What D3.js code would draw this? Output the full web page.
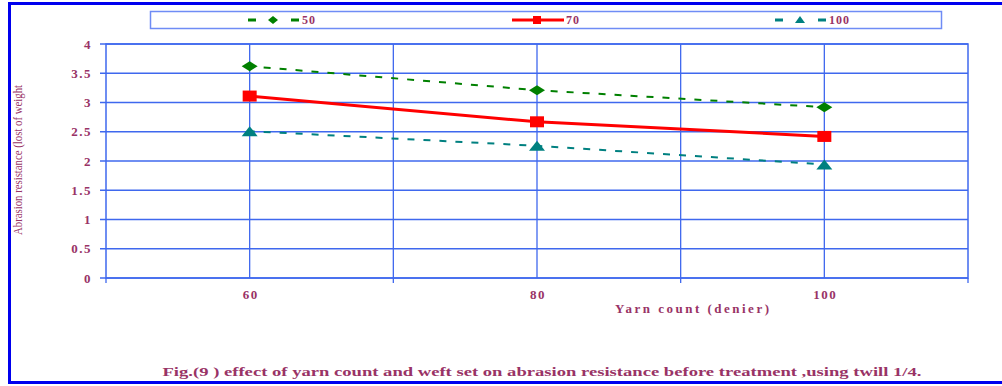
<!DOCTYPE html>
<html>
<head>
<meta charset="utf-8">
<script src="https://cdn.jsdelivr.net/npm/d3@7"></script>
<style>
  body { margin: 0; background: #ffffff; }
  svg text { font-family: "Liberation Serif", "Times New Roman", serif; }
</style>
</head>
<body>
<div id="chart"></div>
<script>
const yarnCounts = [60, 80, 100];
const weft50 = [3.62, 3.21, 2.92];
const weft70 = [3.11, 2.67, 2.42];
const weft100 = [2.51, 2.26, 1.94];
const yTicks = [0, 0.5, 1, 1.5, 2, 2.5, 3, 3.5, 4];
const yTickLabels = ["0", "0.5", "1", "1.5", "2", "2.5", "3", "3.5", "4"];
const xGrid = [60, 70, 80, 90, 100];

const SERIES = [
  { label: "50", values: weft50, color: "#008000", dash: "7,9", width: 2, marker: "diamond" },
  { label: "70", values: weft70, color: "#ff0000", dash: null, width: 3, marker: "square" },
  { label: "100", values: weft100, color: "#008080", dash: "7,9", width: 2, marker: "triangle" },
];

const TEXT = "#993366";
const GRID = "#3f68ee";
const width = 1002;
const height = 386;
const margin = { top: 44, right: 34, bottom: 108, left: 106 };
const innerWidth = width - margin.left - margin.right;
const innerHeight = height - margin.top - margin.bottom;

const svg = d3.select("#chart").append("svg")
  .attr("width", width)
  .attr("height", height);

// outer frame (right side runs off the picture)
svg.append("rect")
  .attr("x", 9.5).attr("y", 3.5)
  .attr("width", 1000).attr("height", 379)
  .attr("fill", "none")
  .attr("stroke", "#0000ee")
  .attr("stroke-width", 3);

const chart = svg.append("g")
  .attr("transform", `translate(${margin.left},${margin.top})`);

const x = d3.scaleLinear().domain([50, 110]).range([0, innerWidth]);
const y = d3.scaleLinear().domain([0, 4]).range([innerHeight, 0]);

// horizontal grid
chart.selectAll(".hgrid").data(yTicks).join("line")
  .attr("x1", -6).attr("x2", innerWidth)
  .attr("y1", (d) => y(d)).attr("y2", (d) => y(d))
  .attr("stroke", GRID).attr("stroke-width", 1.3);

// vertical grid
chart.selectAll(".vgrid").data(xGrid).join("line")
  .attr("x1", (d) => x(d)).attr("x2", (d) => x(d))
  .attr("y1", 0).attr("y2", innerHeight)
  .attr("stroke", GRID).attr("stroke-width", 1.3);

// bottom tick marks
chart.selectAll(".xtick").data([50, 70, 90, 110]).join("line")
  .attr("x1", (d) => x(d)).attr("x2", (d) => x(d))
  .attr("y1", innerHeight).attr("y2", innerHeight + 5)
  .attr("stroke", GRID).attr("stroke-width", 1.3);

// plot border
chart.append("rect")
  .attr("width", innerWidth).attr("height", innerHeight)
  .attr("fill", "none")
  .attr("stroke", GRID).attr("stroke-width", 1.5);

// y tick labels
chart.selectAll(".ylab").data(yTicks).join("text")
  .attr("x", -14)
  .attr("y", (d) => y(d) + 4.5)
  .attr("text-anchor", "end")
  .attr("font-size", 13)
  .attr("font-weight", "bold")
  .attr("letter-spacing", 1.5)
  .attr("fill", TEXT)
  .text((d, i) => yTickLabels[i]);

// x tick labels
chart.selectAll(".xlab").data(yarnCounts).join("text")
  .attr("x", (d) => x(d) + 1)
  .attr("y", innerHeight + 21)
  .attr("text-anchor", "middle")
  .attr("font-size", 13)
  .attr("font-weight", "bold")
  .attr("letter-spacing", 1.5)
  .attr("fill", TEXT)
  .text((d) => d);

// axis titles
svg.append("text")
  .attr("x", 692).attr("y", 313)
  .attr("text-anchor", "middle")
  .attr("font-size", 13)
  .attr("font-weight", "bold")
  .attr("fill", TEXT)
  .attr("textLength", 154)
  .attr("lengthAdjust", "spacing")
  .text("Yarn count (denier)");

svg.append("text")
  .attr("transform", "translate(22,160) rotate(-90)")
  .attr("text-anchor", "middle")
  .attr("font-size", 12)
  .attr("fill", TEXT)
  .attr("textLength", 150)
  .attr("lengthAdjust", "spacingAndGlyphs")
  .text("Abrasion resistance (lost of weight");

svg.append("text")
  .attr("x", 542).attr("y", 376)
  .attr("text-anchor", "middle")
  .attr("font-size", 13)
  .attr("font-weight", "bold")
  .attr("fill", TEXT)
  .attr("textLength", 759)
  .attr("lengthAdjust", "spacingAndGlyphs")
  .text("Fig.(9 ) effect of yarn count and weft set on abrasion resistance before treatment ,using twill 1/4.");

function drawMarker(g, type, color, cx, cy) {
  if (type === "diamond") {
    g.append("path")
      .attr("d", `M${cx - 8},${cy} L${cx},${cy - 5} L${cx + 8},${cy} L${cx},${cy + 5} Z`)
      .attr("fill", color);
  } else if (type === "square") {
    g.append("rect")
      .attr("x", cx - 7).attr("y", cy - 5.5)
      .attr("width", 14).attr("height", 11)
      .attr("fill", color);
  } else {
    g.append("path")
      .attr("d", `M${cx - 8},${cy + 5} L${cx},${cy - 5} L${cx + 8},${cy + 5} Z`)
      .attr("fill", color);
  }
}

const line = d3.line()
  .x((d) => x(d.count))
  .y((d) => y(d.value));

SERIES.forEach((series) => {
  const points = yarnCounts.map((count, i) => ({ count, value: series.values[i] }));
  chart.append("path")
    .datum(points)
    .attr("fill", "none")
    .attr("stroke", series.color)
    .attr("stroke-width", series.width)
    .attr("stroke-dasharray", series.dash)
    .attr("stroke-dashoffset", -14)
    .attr("d", line);
  points.forEach((p) => drawMarker(chart, series.marker, series.color, x(p.count), y(p.value)));
});

// legend
const legend = svg.append("g");
legend.append("rect")
  .attr("x", 150.5).attr("y", 11.5)
  .attr("width", 791).attr("height", 17)
  .attr("fill", "#ffffff")
  .attr("stroke", "#6f8cf5").attr("stroke-width", 1.5);

const legendX = [273, 537, 800];
SERIES.forEach((series, i) => {
  const cx = legendX[i];
  const cy = 20;
  const row = legend.append("g");
  if (series.dash) {
    [-21, 22].forEach((dx) => {
      row.append("line")
        .attr("x1", cx + dx - 4).attr("x2", cx + dx + 4)
        .attr("y1", cy).attr("y2", cy)
        .attr("stroke", series.color).attr("stroke-width", 3);
    });
    if (series.marker === "diamond") {
      row.append("path")
        .attr("d", `M${cx - 5},${cy} L${cx},${cy - 4} L${cx + 5},${cy} L${cx},${cy + 4} Z`)
        .attr("fill", series.color);
    } else {
      row.append("path")
        .attr("d", `M${cx - 5},${cy + 3} L${cx},${cy - 4} L${cx + 5},${cy + 3} Z`)
        .attr("fill", series.color);
    }
  } else {
    row.append("line")
      .attr("x1", cx - 25).attr("x2", cx + 27)
      .attr("y1", cy).attr("y2", cy)
      .attr("stroke", series.color).attr("stroke-width", 3);
    row.append("rect")
      .attr("x", cx - 4).attr("y", cy - 4)
      .attr("width", 8).attr("height", 8)
      .attr("fill", series.color);
  }
  row.append("text")
    .attr("x", cx + 29)
    .attr("y", cy + 4)
    .attr("font-size", 12)
    .attr("font-weight", "bold")
    .attr("letter-spacing", 1)
    .attr("fill", TEXT)
    .text(series.label);
});
</script>
</body>
</html>
